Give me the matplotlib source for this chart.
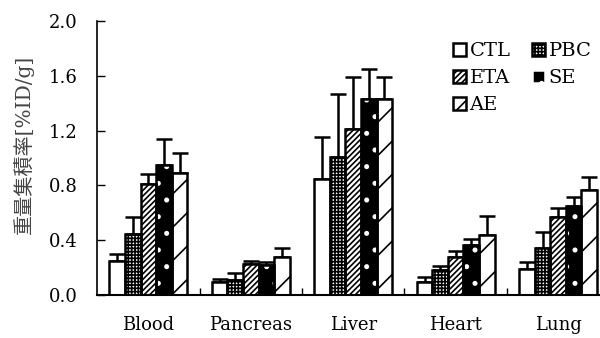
import numpy as np
import matplotlib
matplotlib.use('Agg')
import matplotlib.pyplot as plt
from matplotlib.patches import Patch

plt.rcParams['font.family'] = ['DejaVu Serif', 'Noto Sans CJK JP']
plt.rcParams['hatch.linewidth'] = 1.2

organs = ['Blood', 'Pancreas', 'Liver', 'Heart', 'Lung']
groups = ['CTL', 'PBC', 'ETA', 'SE', 'AE']

ctl = [0.25, 0.095, 0.85, 0.095, 0.19]
pbc = [0.445, 0.11, 1.01, 0.18, 0.34]
eta = [0.81, 0.23, 1.21, 0.28, 0.57]
se = [0.95, 0.22, 1.43, 0.365, 0.65]
ae = [0.89, 0.28, 1.43, 0.44, 0.77]

ctl_err = [0.05, 0.025, 0.30, 0.035, 0.05]
pbc_err = [0.125, 0.05, 0.46, 0.03, 0.12]
eta_err = [0.07, 0.02, 0.38, 0.04, 0.065]
se_err = [0.19, 0.02, 0.22, 0.045, 0.065]
ae_err = [0.15, 0.06, 0.16, 0.14, 0.09]

values = [ctl, pbc, eta, se, ae]
errors = [ctl_err, pbc_err, eta_err, se_err, ae_err]
# face, hatch, hatch colour
styles = [('white', '', 'black'),
          ('white', '+++++', 'black'),
          ('white', '//////', 'black'),
          ('black', '.', 'white'),
          ('white', '/', 'black')]

fig = plt.figure(figsize=(6, 3.38), dpi=100)
ax = fig.add_axes([0.162, 0.127, 0.845, 0.811])

x = np.arange(len(organs))
w = 0.152
for i, g in enumerate(groups):
    pos = x + (i - 2) * w
    face, hatch, hcol = styles[i]
    ax.bar(pos, values[i], w, color=face, edgecolor=hcol, hatch=hatch, linewidth=0, zorder=2)
    ax.bar(pos, values[i], w, color='none', edgecolor='black', linewidth=1.8, zorder=3)
    ax.errorbar(pos, values[i], yerr=[np.zeros(5), errors[i]], fmt='none',
                ecolor='black', elinewidth=1.8, capsize=6, capthick=1.8, zorder=1)

leg_handles = []
for i, g in enumerate(groups):
    face, hatch, hcol = styles[i]
    leg_handles.append(Patch(facecolor=face, edgecolor=hcol, hatch=hatch, linewidth=0))
order = [0, 2, 4, 1, 3]

leg = ax.legend([leg_handles[k] for k in order], [groups[k] for k in order], ncol=2,
                loc='upper right', bbox_to_anchor=(0.99, 0.95), frameon=False, fontsize=14,
                handlelength=0.65, handleheight=0.65, handletextpad=0.2, columnspacing=1.1,
                labelspacing=0.45, borderaxespad=0)
for p in leg.get_patches():
    p.set_linewidth(1.8)
    if p.get_facecolor()[0] > 0.5:
        p.set_edgecolor('black')

ax.set_ylim(0, 2.0)
ax.set_xlim(-0.5, 4.45)
ax.set_yticks([0, 0.4, 0.8, 1.2, 1.6, 2.0])
ax.set_yticklabels(['0.0', '0.4', '0.8', '1.2', '1.6', '2.0'], fontsize=13)
ax.set_xticks(x)
ax.set_xticklabels(organs, fontsize=13)
ax.set_xticks(np.arange(0.5, 4.5, 1), minor=True)
ax.tick_params(axis='x', which='major', length=0, pad=15)
ax.tick_params(axis='x', which='minor', direction='in', length=5, width=1)
ax.tick_params(axis='y', direction='in', length=6, width=1, pad=14)
ax.set_ylabel('重量集積率[%ID/g]', fontsize=14.5, color='#444444')
ax.yaxis.set_label_coords(-0.125, 0.55)
ax.spines['top'].set_visible(False)
ax.spines['right'].set_visible(False)
ax.spines['left'].set_linewidth(1.2)
ax.spines['bottom'].set_linewidth(1.5)

fig.savefig('out.png', dpi=100)
